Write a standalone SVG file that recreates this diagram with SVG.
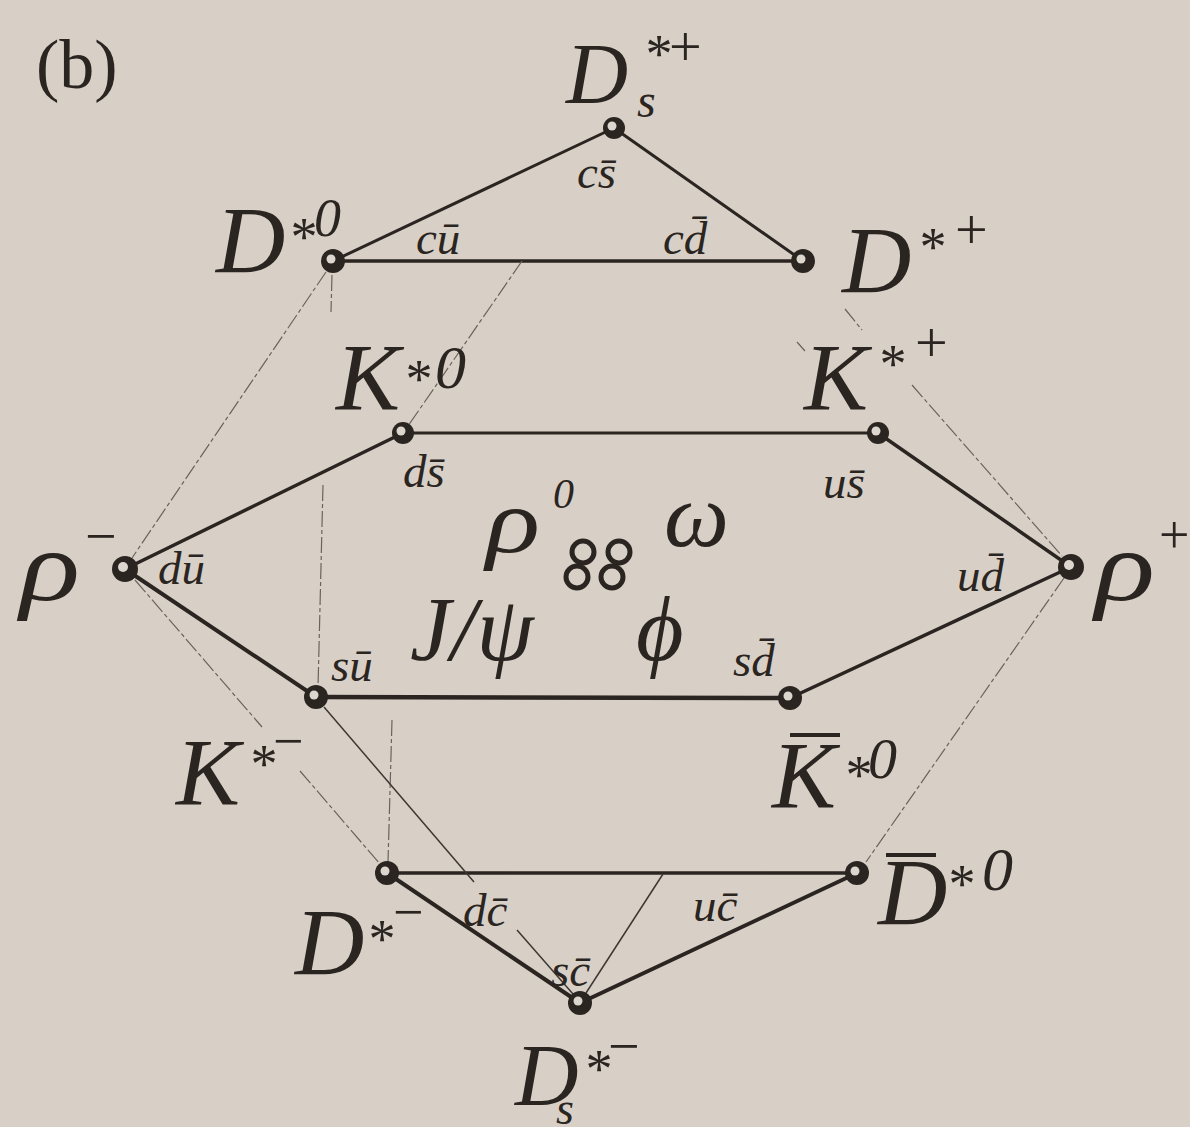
<svg xmlns="http://www.w3.org/2000/svg" width="1190" height="1127" viewBox="0 0 1190 1127">
<defs>
<style>
.bg{fill:#d8d0c7}
.e{stroke:#2b2521;stroke-linecap:round;fill:none}
.f{stroke:#6a635c;stroke-width:1.2;fill:none;stroke-dasharray:16 3 4 3}
.t{stroke:#3d3733;stroke-width:1.5;fill:none}
.n{fill:#2b2521}
.h{fill:#dcd6ce}
text{font-family:"Liberation Serif","Times New Roman",serif;fill:#2b2521}
.big{font-style:italic;font-size:96px}
.sup{font-size:54px;font-style:italic}
.zero{font-size:58px;font-style:italic}
.sym{font-size:58px}
.q{font-style:italic;font-size:47px}
</style>
</defs>
<rect class="bg" x="0" y="0" width="1190" height="1127"/>
<text x="36" y="88" style="font-size:70px">(b)</text>

<g id="connectors">
<line class="e" x1="614" y1="128" x2="333" y2="261" stroke-width="3"/>
<line class="e" x1="614" y1="128" x2="803" y2="261" stroke-width="3"/>
<line class="e" x1="333" y1="261" x2="803" y2="261" stroke-width="3.5"/>
<line class="e" x1="403" y1="433" x2="878" y2="433" stroke-width="3"/>
<line class="e" x1="878" y1="433" x2="1071" y2="567" stroke-width="3.5"/>
<line class="e" x1="1071" y1="567" x2="790" y2="698" stroke-width="3.5"/>
<line class="e" x1="790" y1="698" x2="316" y2="697" stroke-width="4.5"/>
<line class="e" x1="316" y1="697" x2="125" y2="569" stroke-width="4"/>
<line class="e" x1="125" y1="569" x2="403" y2="433" stroke-width="3.5"/>
<line class="e" x1="387" y1="873" x2="857" y2="873" stroke-width="3.5"/>
<line class="e" x1="387" y1="873" x2="580" y2="1003" stroke-width="4"/>
<line class="e" x1="580" y1="1003" x2="857" y2="873" stroke-width="4"/>
<line class="f" x1="326" y1="272" x2="132" y2="558"/>
<line class="f" x1="332" y1="275" x2="331" y2="312"/>
<line class="f" x1="323" y1="485" x2="318" y2="688"/>
<line class="f" x1="522" y1="261" x2="408" y2="426"/>
<line class="f" x1="845" y1="309" x2="862" y2="330"/>
<line class="f" x1="912" y1="385" x2="1062" y2="556"/>
<line class="f" x1="797" y1="342" x2="805" y2="351"/>
<line class="f" x1="1064" y1="578" x2="866" y2="862"/>
<line class="f" x1="135" y1="580" x2="262" y2="727"/>
<line class="f" x1="300" y1="771" x2="380" y2="864"/>
<line class="f" x1="392" y1="720" x2="388" y2="862"/>
<line class="t" x1="324" y1="707" x2="474" y2="882"/>
<line class="t" x1="517" y1="930" x2="573" y2="994"/>
<line class="t" x1="663" y1="874" x2="586" y2="993"/>
</g>

<g id="n-Ds-plus">
<circle class="n" cx="614" cy="128" r="11"/><circle class="h" cx="612" cy="126" r="4.5"/>
<text class="big" x="566" y="103" style="font-size:86px">D</text>
<text class="sup" x="643" y="72">*</text><text class="sym" x="669" y="66">+</text>
<text class="sup" x="637" y="117" style="font-size:48px">s</text>
<text class="q" x="577" y="188">cs&#x0304;</text>
</g>
<g id="n-D0">
<circle class="n" cx="333" cy="261" r="12"/><circle class="h" cx="331" cy="259" r="4.5"/>
<text class="big" x="216" y="273">D</text>
<text class="sup" x="288" y="255">*</text><text class="zero" x="314" y="236" style="font-size:54px">0</text>
<text class="q" x="416" y="254">cu&#x0304;</text>
</g>
<g id="n-Dplus">
<circle class="n" cx="803" cy="261" r="12"/><circle class="h" cx="801" cy="259" r="4.5"/>
<text class="big" x="842" y="293">D</text>
<text class="sup" x="917" y="265">*</text><text class="sym" x="955" y="249">+</text>
<text class="q" x="663" y="254">cd&#x0304;</text>
</g>
<g id="n-K0">
<circle class="n" cx="403" cy="433" r="11"/><circle class="h" cx="401" cy="431" r="4.5"/>
<text class="big" x="336" y="410">K</text>
<text class="sup" x="403" y="397">*</text><text class="zero" x="435" y="388" style="font-size:62px">0</text>
<text class="q" x="403" y="487">ds&#x0304;</text>
</g>
<g id="n-Kplus">
<circle class="n" cx="878" cy="433" r="11"/><circle class="h" cx="876" cy="431" r="4.5"/>
<text class="big" x="804" y="410">K</text>
<text class="sup" x="877" y="382">*</text><text class="sym" x="915" y="362">+</text>
<text class="q" x="823" y="498">us&#x0304;</text>
</g>
<g id="n-rho-minus">
<circle class="n" cx="125" cy="569" r="13"/><circle class="h" cx="123" cy="567" r="5"/>
<text class="big" transform="translate(20,600) scale(1.25,1)" style="font-size:100px">ρ</text>
<text class="sym" x="85" y="555" style="font-size:56px">−</text>
<text class="q" x="158" y="584">du&#x0304;</text>
</g>
<g id="n-rho-plus">
<circle class="n" cx="1071" cy="567" r="13"/><circle class="h" cx="1069" cy="565" r="5"/>
<text class="big" transform="translate(1095,600) scale(1.25,1)" style="font-size:100px">ρ</text>
<text class="sym" x="1159" y="553" style="font-size:54px">+</text>
<text class="q" x="957" y="591">ud&#x0304;</text>
</g>
<g id="n-center">
<circle cx="583" cy="552" r="11" fill="none" stroke="#2b2521" stroke-width="5"/>
<circle cx="619" cy="552" r="11" fill="none" stroke="#2b2521" stroke-width="5"/>
<circle cx="577" cy="577" r="11" fill="none" stroke="#2b2521" stroke-width="5"/>
<circle cx="612" cy="577" r="11" fill="none" stroke="#2b2521" stroke-width="5"/>
<text class="big" transform="translate(486,552) scale(1.25,1)" style="font-size:90px">ρ</text>
<text class="q" x="553" y="508" style="font-size:42px">0</text>
<text class="big" x="664" y="546" style="font-size:92px">ω</text>
<text class="big" x="410" y="660" style="font-size:92px">J/ψ</text>
<text class="big" x="636" y="660" style="font-size:92px">ϕ</text>
</g>
<g id="n-Kminus">
<circle class="n" cx="316" cy="697" r="12"/><circle class="h" cx="314" cy="695" r="4.5"/>
<text class="big" x="176" y="805">K</text>
<text class="sup" x="248" y="782">*</text><text class="sym" x="273" y="759" style="font-size:54px">−</text>
<text class="q" x="331" y="681">su&#x0304;</text>
</g>
<g id="n-K0bar">
<circle class="n" cx="790" cy="698" r="12"/><circle class="h" cx="788" cy="696" r="4.5"/>
<text class="big" x="772" y="808">K</text>
<line x1="790" y1="735" x2="840" y2="735" stroke="#2b2521" stroke-width="4"/>
<text class="sup" x="843" y="793">*</text><text class="zero" x="868" y="778">0</text>
<text class="q" x="733" y="676">sd&#x0304;</text>
</g>
<g id="n-Dminus">
<circle class="n" cx="387" cy="873" r="12"/><circle class="h" cx="385" cy="871" r="4.5"/>
<text class="big" x="295" y="975">D</text>
<text class="sup" x="366" y="957">*</text><text class="sym" x="393" y="930" style="font-size:54px">−</text>
<text class="q" x="463" y="926">dc&#x0304;</text>
</g>
<g id="n-D0bar">
<circle class="n" cx="857" cy="873" r="12"/><circle class="h" cx="855" cy="871" r="4.5"/>
<text class="big" x="878" y="925">D</text>
<line x1="886" y1="855" x2="936" y2="855" stroke="#2b2521" stroke-width="4"/>
<text class="sup" x="946" y="902">*</text><text class="zero" x="982" y="890" style="font-size:62px">0</text>
<text class="q" x="693" y="921">uc&#x0304;</text>
</g>
<g id="n-Ds-minus">
<circle class="n" cx="580" cy="1003" r="12"/><circle class="h" cx="578" cy="1001" r="4.5"/>
<text class="big" x="515" y="1105" style="font-size:88px">D</text>
<text class="sup" x="583" y="1087">*</text><text class="sym" x="608" y="1065" style="font-size:56px">−</text>
<text class="sup" x="556" y="1124" style="font-size:46px">s</text>
<text class="q" x="551" y="986">sc&#x0304;</text>
</g>
</svg>
